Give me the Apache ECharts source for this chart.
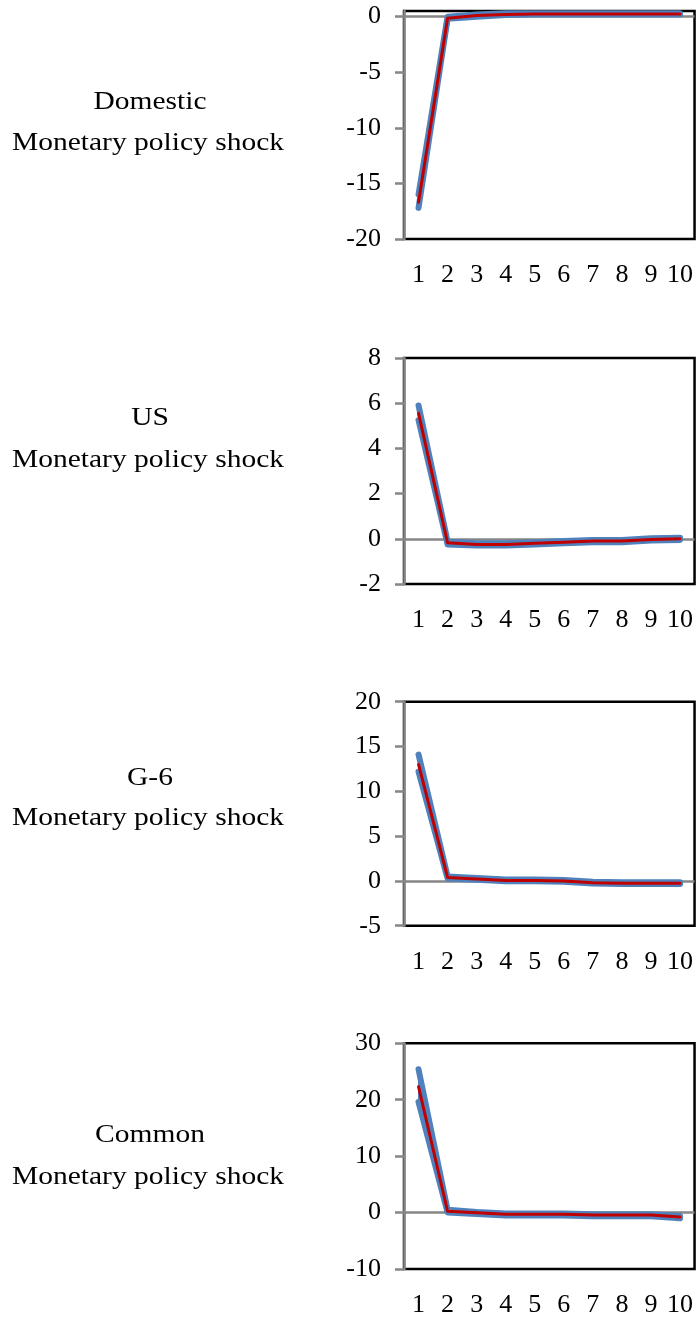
<!DOCTYPE html>
<html>
<head>
<meta charset="utf-8">
<script src="https://cdn.jsdelivr.net/npm/echarts@6.0.0/dist/echarts.min.js"></script>
<style>
  html, body { margin: 0; padding: 0; background: #fff; }
  #chart { width: 696px; height: 1319px; }
</style>
</head>
<body>
<div id="chart"></div>
<script>
// Impulse responses over 10 periods: median (red) inside an upper/lower band (blue)
const periods = ['1', '2', '3', '4', '5', '6', '7', '8', '9', '10'];

const domesticMedian = [-16.7, -0.15, 0.1, 0.2, 0.25, 0.25, 0.25, 0.25, 0.25, 0.25];
const domesticUpper  = [-16.0, 0.0, 0.2, 0.3, 0.3, 0.3, 0.3, 0.3, 0.3, 0.3];
const domesticLower  = [-17.2, -0.2, 0.0, 0.15, 0.2, 0.2, 0.2, 0.2, 0.2, 0.2];
const domesticTicks  = [-20, -15, -10, -5, 0];

const usMedian = [5.55, -0.18, -0.25, -0.25, -0.2, -0.15, -0.1, -0.1, -0.03, 0.0];
const usUpper  = [5.9, -0.13, -0.2, -0.2, -0.15, -0.1, -0.05, -0.05, 0.02, 0.05];
const usLower  = [5.25, -0.25, -0.3, -0.3, -0.25, -0.2, -0.15, -0.15, -0.08, -0.05];
const usTicks  = [-2, 0, 2, 4, 6, 8];

const g6Median = [13.0, 0.38, 0.22, 0.05, 0.05, 0.0, -0.2, -0.25, -0.25, -0.25];
const g6Upper  = [14.1, 0.5, 0.32, 0.15, 0.15, 0.1, -0.1, -0.15, -0.15, -0.15];
const g6Lower  = [12.2, 0.28, 0.12, -0.05, -0.05, -0.1, -0.3, -0.35, -0.35, -0.35];
const g6Ticks  = [-5, 0, 5, 10, 15, 20];

const commonMedian = [22.3, 0.23, -0.05, -0.3, -0.3, -0.3, -0.45, -0.45, -0.45, -0.8];
const commonUpper  = [25.4, 0.5, 0.1, -0.15, -0.15, -0.15, -0.3, -0.3, -0.3, -0.6];
const commonLower  = [19.6, 0.0, -0.25, -0.5, -0.5, -0.5, -0.65, -0.65, -0.65, -1.0];
const commonTicks  = [-10, 0, 10, 20, 30];

const shockNames = ['Domestic', 'US', 'G-6', 'Common'];
const shockLabel = 'Monetary policy shock';

const BLUE = '#4f81bd';
const RED = '#c00000';
const GREY = '#868686';
const FONT = 'Liberation Serif';

// Layout of each panel: plot rectangle and y-range
const panels = [
  { top: 11.1, height: 227.9, min: -20, max: 0.5, ticks: domesticTicks,
    median: domesticMedian, upper: domesticUpper, lower: domesticLower, labelY: [102, 143] },
  { top: 358, height: 226, min: -2, max: 8, ticks: usTicks,
    median: usMedian, upper: usUpper, lower: usLower, labelY: [418, 460] },
  { top: 701.7, height: 224, min: -5, max: 20, ticks: g6Ticks,
    median: g6Median, upper: g6Upper, lower: g6Lower, labelY: [778, 818] },
  { top: 1043.3, height: 225.7, min: -10, max: 30, ticks: commonTicks,
    median: commonMedian, upper: commonUpper, lower: commonLower, labelY: [1135, 1177] }
];

// Band segment between consecutive periods, filled from lower to upper bound
function renderBand(params, api) {
  const a = [api.value(0), api.value(1)];
  const pts = [
    api.coord([api.value(0), api.value(1)]),
    api.coord([api.value(0), api.value(2)]),
    api.coord([api.value(3), api.value(5)]),
    api.coord([api.value(3), api.value(4)])
  ];
  return {
    type: 'polygon',
    shape: { points: pts },
    style: { fill: BLUE, stroke: BLUE, lineWidth: 1 }
  };
}

const grid = [], xAxis = [], yAxis = [], series = [], graphic = [];

panels.forEach((p, i) => {
  grid.push({
    left: 404, width: 291, top: p.top, height: p.height,
    show: true, borderColor: '#000', borderWidth: 2.5, backgroundColor: '#fff'
  });
  xAxis.push({
    type: 'category', gridIndex: i, data: periods, boundaryGap: true,
    axisLine: { show: false }, axisTick: { show: false }, splitLine: { show: false },
    axisLabel: { interval: 0, color: '#000', fontFamily: FONT, fontSize: 26, margin: 23 }
  });
  yAxis.push({
    type: 'value', gridIndex: i, min: p.min, max: p.max,
    axisLine: { show: true, onZero: false, lineStyle: { color: GREY, width: 2.5 } },
    axisTick: { show: true, inside: false, length: 9, customValues: p.ticks,
      lineStyle: { color: GREY, width: 2.5 } },
    splitLine: { show: false },
    axisLabel: { customValues: p.ticks, color: '#000', fontFamily: FONT, fontSize: 26, margin: 23 }
  });

  // band fill: [period, lower, upper, next period, next lower, next upper]
  const bandData = [];
  for (let k = 0; k < periods.length - 1; k++) {
    bandData.push([k, p.lower[k], p.upper[k], k + 1, p.lower[k + 1], p.upper[k + 1]]);
  }
  series.push({
    type: 'custom', xAxisIndex: i, yAxisIndex: i, data: bandData,
    renderItem: renderBand, silent: true, z: 2,
    encode: { x: [0, 3], y: [1, 2, 4, 5] },
    markLine: {
      silent: true, symbol: 'none', z: 1, animation: false,
      label: { show: false },
      lineStyle: { color: GREY, width: 2.5, type: 'solid' },
      data: [{ yAxis: 0 }]
    }
  });
  // lower and upper bound lines
  [p.lower, p.upper].forEach((bound) => {
    series.push({
      type: 'line', xAxisIndex: i, yAxisIndex: i, data: bound,
      symbol: 'none', silent: true, z: 3,
      lineStyle: { color: BLUE, width: 6, cap: 'round', join: 'round' }
    });
  });
  // median response
  series.push({
    type: 'line', xAxisIndex: i, yAxisIndex: i, data: p.median,
    symbol: 'none', silent: true, z: 4,
    lineStyle: { color: RED, width: 3, cap: 'round', join: 'round' }
  });

  const textStyle = (text) => ({
    text: text, font: '25px "Liberation Serif"', fill: '#000',
    textAlign: 'center', textVerticalAlign: 'middle'
  });
  graphic.push({ type: 'text', x: 150, y: p.labelY[0], scaleX: 1.18, style: textStyle(shockNames[i]) });
  graphic.push({ type: 'text', x: 148, y: p.labelY[1], scaleX: 1.18, style: textStyle(shockLabel) });
});

const chart = echarts.init(document.getElementById('chart'), null, { renderer: 'canvas' });
chart.setOption({
  animation: false,
  backgroundColor: '#fff',
  grid: grid,
  xAxis: xAxis,
  yAxis: yAxis,
  series: series,
  graphic: graphic
});
</script>
</body>
</html>
